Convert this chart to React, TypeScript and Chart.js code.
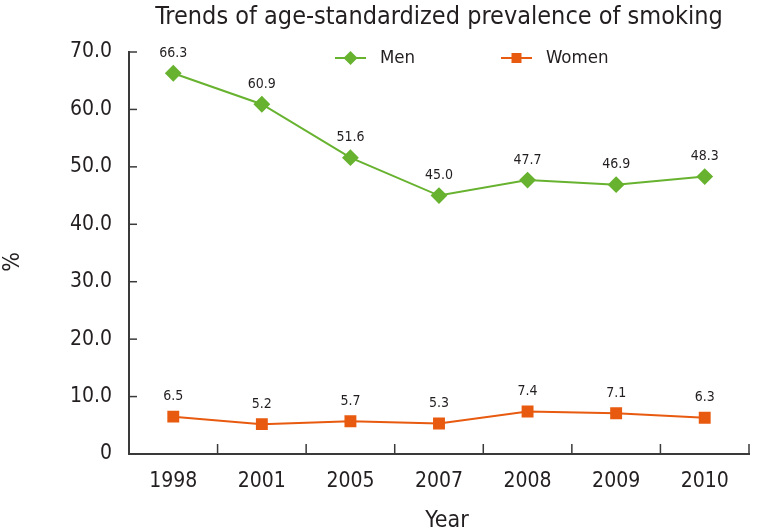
import React, { useEffect, useRef } from "react";
import { Chart, registerables } from "chart.js";

Chart.register(...registerables);

const categories = ["1998", "2001", "2005", "2007", "2008", "2009", "2010"];
const menValues = [66.3, 60.9, 51.6, 45.0, 47.7, 46.9, 48.3];
const womenValues = [6.5, 5.2, 5.7, 5.3, 7.4, 7.1, 6.3];
const seriesNames = ["Men", "Women"];
const titleText = "Trends of age-standardized prevalence of smoking";
const xTitle = "Year";
const yTitle = "%";

const FONT = "'Liberation Sans Narrow', 'DejaVu Sans Condensed', 'Roboto', sans-serif";
const GREEN = "#67b22f";
const ORANGE = "#e85a0f";
const AXIS = "#3a3a3a";
const TEXT = "#231f20";

const customPlugin = {
  id: "custom",
  afterDraw(chart: any) {
    const ctx = chart.ctx;
    const area = chart.chartArea;
    const xs = chart.scales.x;
    const ys = chart.scales.y;
    ctx.save();
    // inner tick marks
    ctx.strokeStyle = AXIS;
    ctx.lineWidth = 1.5;
    ys.ticks.forEach((_t: any, i: number) => {
      const y = ys.getPixelForTick(i);
      ctx.beginPath();
      ctx.moveTo(area.left, y);
      ctx.lineTo(area.left + 8, y);
      ctx.stroke();
    });
    const n = categories.length;
    for (let i = 1; i <= n; i++) {
      let x;
      if (i === n) x = area.right;
      else x = (xs.getPixelForValue(i - 1) + xs.getPixelForValue(i)) / 2;
      ctx.beginPath();
      ctx.moveTo(x, area.bottom);
      ctx.lineTo(x, area.bottom - 10);
      ctx.stroke();
    }
    // data labels
    ctx.fillStyle = TEXT;
    ctx.font = `14px ${FONT}`;
    ctx.textAlign = "center";
    ctx.textBaseline = "middle";
    chart.data.datasets.forEach((ds: any, di: number) => {
      const meta = chart.getDatasetMeta(di);
      meta.data.forEach((pt: any, i: number) => {
        ctx.fillText(Number(ds.data[i]).toFixed(1), pt.x, pt.y - 20);
      });
    });
    // title
    const cx = (area.left + area.right) / 2;
    ctx.font = `25px ${FONT}`;
    ctx.fillText(titleText, cx, 17);
    // axis titles
    ctx.font = `23px ${FONT}`;
    ctx.fillText(xTitle, cx + 8, 521);
    ctx.save();
    ctx.translate(13, 262);
    ctx.rotate(-Math.PI / 2);
    ctx.fillText(yTitle, 0, 0);
    ctx.restore();
    // legend
    const ly = 58;
    const items = [
      { x: cx - 104, ds: chart.data.datasets[0] },
      { x: cx + 62, ds: chart.data.datasets[1] },
    ];
    items.forEach((it) => {
      const ds = it.ds;
      ctx.strokeStyle = ds.borderColor;
      ctx.lineWidth = 2;
      ctx.beginPath();
      ctx.moveTo(it.x, ly);
      ctx.lineTo(it.x + 31, ly);
      ctx.stroke();
      ctx.fillStyle = ds.pointBackgroundColor;
      const mx = it.x + 15.5;
      ctx.beginPath();
      if (ds.pointStyle === "rectRot") {
        const r = 7;
        ctx.moveTo(mx, ly - r);
        ctx.lineTo(mx + r, ly);
        ctx.lineTo(mx, ly + r);
        ctx.lineTo(mx - r, ly);
        ctx.closePath();
      } else {
        ctx.rect(mx - 5, ly - 5, 10, 10);
      }
      ctx.fill();
      ctx.fillStyle = TEXT;
      ctx.font = `18.5px ${FONT}`;
      ctx.textAlign = "left";
      ctx.fillText(ds.label, it.x + 45, ly);
    });
    ctx.restore();
  },
};

export default function App() {
  const ref = useRef<HTMLCanvasElement | null>(null);
  useEffect(() => {
    document.body.style.margin = "0";
    if (!ref.current) return;
    const chart = new Chart(ref.current, {
      type: "line",
      data: {
        labels: categories,
        datasets: [
          {
            label: seriesNames[0],
            data: menValues,
            borderColor: GREEN,
            backgroundColor: GREEN,
            pointBackgroundColor: GREEN,
            pointBorderColor: GREEN,
            pointStyle: "rectRot",
            pointRadius: 7,
            borderWidth: 2,
            tension: 0,
          },
          {
            label: seriesNames[1],
            data: womenValues,
            borderColor: ORANGE,
            backgroundColor: ORANGE,
            pointBackgroundColor: ORANGE,
            pointBorderColor: ORANGE,
            pointStyle: "rect",
            pointRadius: 7,
            borderWidth: 2,
            tension: 0,
          },
        ],
      },
      options: {
        animation: false,
        responsive: false,
        devicePixelRatio: 1,
        layout: { padding: { left: 0, right: 5, top: 52, bottom: 0 } },
        plugins: {
          legend: { display: false },
          title: { display: false },
          tooltip: { enabled: false },
        },
        scales: {
          x: {
            offset: true,
            grid: { display: false, drawTicks: false },
            border: { display: true, color: AXIS, width: 2 },
            ticks: { color: TEXT, font: { family: FONT, size: 21 }, padding: 15 },
            afterFit: (s: any) => { s.height = 78; },
          },
          y: {
            min: 0,
            max: 70,
            grid: { display: false, drawTicks: false },
            border: { display: true, color: AXIS, width: 2 },
            ticks: {
              stepSize: 10,
              color: TEXT,
              font: { family: FONT, size: 21 },
              padding: 17,
              callback: (v: any) => (Number(v) === 0 ? "0" : Number(v).toFixed(1)),
            },
            afterFit: (s: any) => { s.width = 129; },
          },
        },
      },
      plugins: [customPlugin],
    });
    return () => chart.destroy();
  }, []);
  return (
    <div style={{ width: 758, height: 532 }}>
      <canvas ref={ref} width={758} height={532} style={{ width: 758, height: 532, display: "block" }} />
    </div>
  );
}
